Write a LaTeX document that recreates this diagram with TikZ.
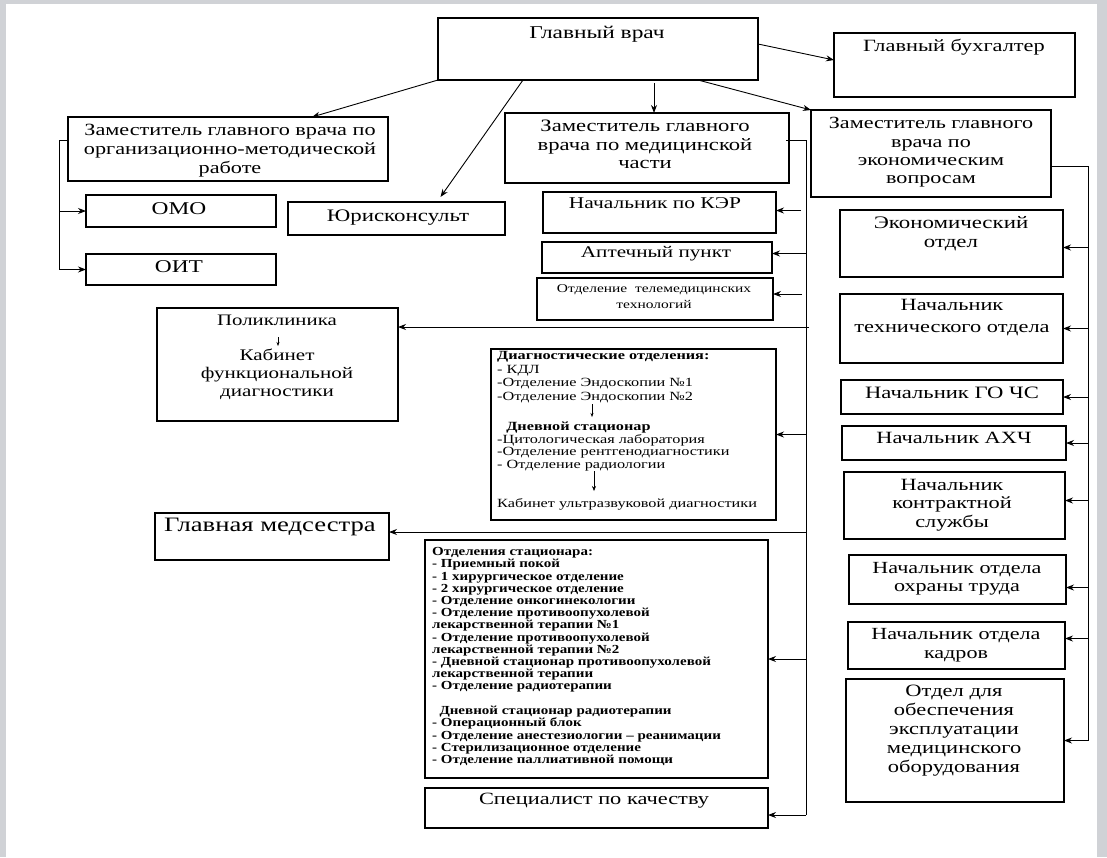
\documentclass[tikz,border=0pt]{standalone}
\usepackage{graphicx}
\usepackage{fontspec}
\setmainfont{Liberation Serif}
\usetikzlibrary{arrows.meta,calc}
\definecolor{pagegray}{RGB}{208,210,214}
\newcommand\mybox[5]{\node[box, minimum width={#4-#2}, minimum height={#5-#3}] (#1) at (#2,#3) {};}
\newcommand\wt[1]{\scalebox{1.3}[1]{\begin{tabular}{@{}c@{}}#1\end{tabular}}}
\newcommand\wl[2]{\scalebox{#1}[1]{\begin{tabular}{@{}l@{}}#2\end{tabular}}}
\begin{document}
\begin{tikzpicture}[x=1pt,y=-1pt,
  box/.style={draw, line width=1.2pt, anchor=north west, inner sep=0pt, outer sep=0pt},
  txt/.style={align=center, inner sep=0pt, font=\fontsize{17.2}{18.5}\selectfont},
  arr/.style={line width=0.9pt, -{Stealth[length=8pt,width=6pt]}},
  ln/.style={line width=0.9pt},
  sarr/.style={line width=0.5pt, -{Stealth[length=4pt,width=3pt]}}]
\useasboundingbox (0,0) rectangle (1107,857);
\fill[white] (0,0) rectangle (1107,857);
\fill[pagegray] (0,0) rectangle (6,857);
\fill[pagegray] (1097,0) rectangle (1107,857);
\fill[pagegray] (0,0) rectangle (1107,4);

% boxes
\mybox{gv}{438}{18}{758}{80}
\mybox{buh}{834}{33}{1075}{97}
\mybox{zorg}{68}{117}{388}{181}
\mybox{zmed}{505}{113}{789}{183}
\mybox{zecon}{811}{110}{1051}{197}
\mybox{omo}{86}{195}{276}{227}
\mybox{oit}{86}{254}{276}{285}
\mybox{yur}{288}{202}{505}{235}
\mybox{ker}{543}{192}{776}{233}
\mybox{apt}{542}{242}{772}{273}
\mybox{tele}{537}{278}{773}{320}
\mybox{poly}{157}{308}{398}{421}
\mybox{diag}{491}{349}{776}{520}
\mybox{msest}{155}{513}{389}{560}
\mybox{stat}{425}{540}{768}{778}
\mybox{spec}{425}{788}{768}{828}
\mybox{eotd}{840}{210}{1063}{277}
\mybox{tech}{840}{294}{1063}{363}
\mybox{gochs}{841}{380}{1063}{414}
\mybox{ahch}{842}{426}{1066}{460}
\mybox{kont}{844}{472}{1065}{539}
\mybox{ohr}{849}{555}{1066}{604}
\mybox{kadr}{848}{622}{1065}{669}
\mybox{obesp}{846}{679}{1064}{802}

% texts
\node[txt, font=\fontsize{18}{19}\selectfont] (t-gv) at (597,35) {\wt{Главный врач}};
\node[txt] (t-buh) at (954,48) {\wt{Главный бухгалтер}};
\node[txt, font=\fontsize{17.1}{18.8}\selectfont] (t-zorg) at (230,151) {\wt{Заместитель главного врача по\\организационно-методической\\работе}};
\node[txt, font=\fontsize{17.4}{18.5}\selectfont] (t-zmed) at (645,146.5) {\wt{Заместитель главного\\врача по медицинской\\части}};
\node[txt, font=\fontsize{17}{18.3}\selectfont] (t-zecon) at (931,152.5) {\wt{Заместитель главного\\врача по\\экономическим\\вопросам}};
\node[txt, font=\fontsize{18}{19}\selectfont] (t-omo) at (179,211) {\wt{ОМО}};
\node[txt, font=\fontsize{18}{19}\selectfont] (t-oit) at (179,269) {\wt{ОИТ}};
\node[txt, font=\fontsize{17.6}{19}\selectfont] (t-yur) at (398,218) {\wt{Юрисконсульт}};
\node[txt, font=\fontsize{16.5}{19}\selectfont] (t-ker) at (655,205) {\wt{Начальник по КЭР}};
\node[txt, font=\fontsize{16.3}{19}\selectfont] (t-apt) at (656,254) {\wt{Аптечный пункт}};
\node[txt, font=\fontsize{11.9}{16}\selectfont] (t-tele) at (654,297) {\wt{Отделение\ \ телемедицинских\\технологий}};
\node[txt, font=\fontsize{16}{17}\selectfont] (t-poly1) at (277,322) {\wt{Поликлиника}};
\node[txt, font=\fontsize{16.2}{18}\selectfont] (t-poly2) at (277,375) {\wt{Кабинет\\функциональной\\диагностики}};
\node[txt, font=\fontsize{20.5}{21}\selectfont] (t-msest) at (270,527) {\wt{Главная медсестра}};
\node[txt] (t-spec) at (594,801) {\wt{Специалист по качеству}};
\node[txt, font=\fontsize{17.6}{19}\selectfont] (t-eotd) at (951,234.5) {\wt{Экономический\\отдел}};
\node[txt, font=\fontsize{17.2}{21.5}\selectfont] (t-tech) at (952,317) {\wt{Начальник\\технического отдела}};
\node[txt, font=\fontsize{17.4}{19}\selectfont] (t-gochs) at (952,395) {\wt{Начальник ГО ЧС}};
\node[txt] (t-ahch) at (954,440) {\wt{Начальник АХЧ}};
\node[txt] (t-kont) at (952,505) {\wt{Начальник\\контрактной\\службы}};
\node[txt, font=\fontsize{17}{18.5}\selectfont] (t-ohr) at (957,579) {\wt{Начальник отдела\\охраны труда}};
\node[txt, font=\fontsize{17}{18.5}\selectfont] (t-kadr) at (956,645.5) {\wt{Начальник отдела\\кадров}};
\node[txt, font=\fontsize{17.3}{19}\selectfont] (t-obesp) at (954,731) {\wt{Отдел для\\обеспечения\\эксплуатации\\медицинского\\оборудования}};

% diagnostic box contents
\node[anchor=north west, inner sep=0pt, font=\fontsize{12.5}{13.6}\selectfont] (d1) at (497,350)
  {\wl{1.3}{\textbf{Диагностические отделения:}\\- КДЛ\\-Отделение Эндоскопии №1\\-Отделение Эндоскопии №2}};
\node[anchor=north west, inner sep=0pt, font=\fontsize{12.5}{12.4}\selectfont] (d2) at (497,422)
  {\wl{1.3}{\hspace*{7pt}\textbf{Дневной стационар}\\-Цитологическая лаборатория\\-Отделение рентгенодиагностики\\- Отделение радиологии}};
\node[anchor=north west, inner sep=0pt, font=\fontsize{12.5}{13}\selectfont] (d3) at (497,498)
  {\wl{1.3}{Кабинет ультразвуковой диагностики}};
\coordinate (da1) at (592,404);
\coordinate (da2) at (592,417);
\coordinate (da3) at (594,471);
\coordinate (da4) at (594,491);
\draw[sarr] (da1) -- (da2);
\draw[line width=0.6pt, -{Stealth[length=5pt,width=4pt]}] (da3) -- (da4);

% stationary box contents
\node[anchor=north west, inner sep=0pt, font=\bfseries\fontsize{12.3}{12.2}\selectfont] (s1) at (432,547)
  {\wl{1.22}{Отделения стационара:\\
   - Приемный покой\\
   - 1 хирургическое отделение\\
   - 2 хирургическое отделение\\
   - Отделение онкогинекологии\\
   - Отделение противоопухолевой\\
   лекарственной терапии №1\\
   - Отделение противоопухолевой\\
   лекарственной терапии №2\\
   - Дневной стационар противоопухолевой\\
   лекарственной терапии\\
   - Отделение радиотерапии\\[12.2pt]
   \hspace*{6pt}Дневной стационар радиотерапии\\
   - Операционный блок\\
   - Отделение анестезиологии – реанимации\\
   - Стерилизационное отделение\\
   - Отделение паллиативной помощи}};

% poliklinika inner arrow
\coordinate (pa1) at (278,337);
\coordinate (pa2) at (278,346);
\draw[sarr] (pa1) -- (pa2);

% connectors from chief doctor
\draw[arr] (gv.south west) -- ([xshift=84pt]zorg.north);
\draw[arr] ([xshift=-75pt]gv.south) -- ([xshift=44pt,yshift=5pt]yur.north);
\draw[arr] ([xshift=56pt,yshift=-3pt]gv.south) -- ([xshift=56pt]gv.south |- zmed.north);
\draw[arr] ([xshift=100pt]gv.south) -- (zecon.north west);
\draw[arr] ([yshift=5pt]gv.east) -- ([yshift=5pt]buh.west);

% left bus
\coordinate (lb) at (59,140);
\draw[ln] (zorg.west |- lb) -- (lb) -- (lb |- oit.west);
\draw[arr] (lb |- omo.west) -- (omo.west);
\draw[arr] (lb |- oit.west) -- (oit.west);

% medical bus
\coordinate (mb) at (806,140);
\coordinate (mbe) at (806,815);
\draw[ln] ([xshift=-3pt]zmed.east |- mb) -- (mb) -- (mbe);
\draw[arr] (mbe) -- (mbe -| spec.east);
\coordinate (ker-in) at ([yshift=2pt]ker.east);
\coordinate (apt-in) at ([yshift=4pt]apt.east);
\coordinate (tele-in) at ([yshift=5pt]tele.east);
\draw[arr] ([xshift=-5pt]mb |- ker-in) -- (ker-in);
\draw[arr] (mb |- apt-in) -- (apt-in);
\draw[arr] ([xshift=-4pt]mb |- tele-in) -- (tele-in);
\draw[arr] (mb |- diag.east) -- (diag.east);
\draw[arr] (mb |- stat.east) -- (stat.east);
\coordinate (mpoly) at (809,327);
\draw[arr] (mpoly) -- (mpoly -| poly.east);
\coordinate (mmed) at (806,532);
\draw[arr] (mmed) -- (mmed -| msest.east);

% economic bus
\coordinate (eb) at (1088,166);
\draw[ln] (zecon.east |- eb) -- (eb) -- (eb |- obesp.east);
\coordinate (eotd-in) at ([yshift=-4pt]eotd.east);
\coordinate (kont-in) at ([yshift=5pt]kont.east);
\coordinate (ohr-in) at ([yshift=-8pt]ohr.east);
\coordinate (kadr-in) at ([yshift=7pt]kadr.east);
\draw[arr] (eb |- eotd-in) -- (eotd-in);
\draw[arr] (eb |- tech.east) -- (tech.east);
\draw[arr] (eb |- gochs.east) -- (gochs.east);
\draw[arr] (eb |- ahch.east) -- (ahch.east);
\draw[arr] (eb |- kont-in) -- (kont-in);
\draw[arr] (eb |- ohr-in) -- (ohr-in);
\draw[arr] (eb |- kadr-in) -- (kadr-in);
\draw[arr] (eb |- obesp.east) -- (obesp.east);
\end{tikzpicture}
\end{document}
